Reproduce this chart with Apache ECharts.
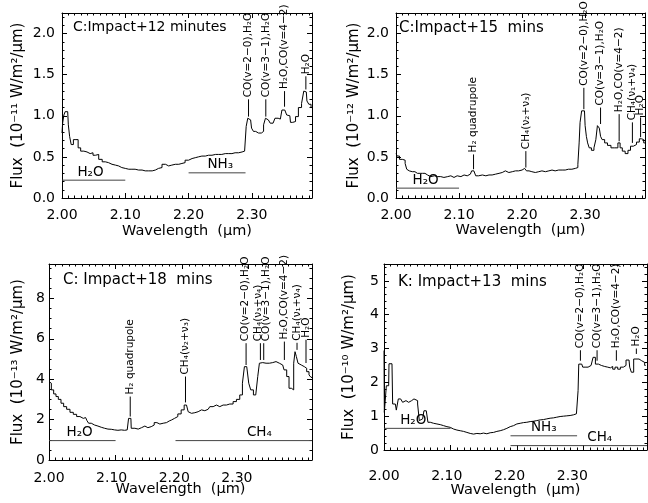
<!DOCTYPE html>
<html><head><meta charset="utf-8">
<script src="https://cdn.jsdelivr.net/npm/echarts@6/dist/echarts.min.js"></script>
<style>html,body{margin:0;padding:0;background:#fff}#c{width:648px;height:503px}</style>
</head><body><div id="c"></div>
<script>
// ---------- DATA ----------
// Panel A: C: Impact+12 minutes  [wavelength (um), flux (1e-11 W/m2/um)]
const specA = [[2.000,0.79],[2.002,0.91],[2.004,1.01],[2.006,1.05],[2.009,1.05],[2.011,0.89],[2.013,0.75],[2.016,0.65],[2.020,0.71],[2.024,0.71],[2.027,0.61],[2.032,0.57],[2.037,0.56],[2.042,0.54],[2.047,0.55],[2.051,0.52],[2.055,0.53],[2.061,0.47],[2.066,0.44],[2.071,0.43],[2.076,0.41],[2.082,0.40],[2.087,0.39],[2.092,0.37],[2.097,0.36],[2.103,0.35],[2.108,0.35],[2.113,0.35],[2.118,0.34],[2.124,0.34],[2.129,0.33],[2.134,0.33],[2.140,0.33],[2.145,0.34],[2.150,0.36],[2.155,0.37],[2.161,0.41],[2.166,0.39],[2.171,0.40],[2.176,0.41],[2.182,0.41],[2.187,0.42],[2.192,0.43],[2.197,0.46],[2.203,0.48],[2.208,0.49],[2.213,0.50],[2.218,0.51],[2.224,0.51],[2.229,0.52],[2.234,0.52],[2.240,0.53],[2.245,0.53],[2.250,0.53],[2.255,0.54],[2.261,0.54],[2.266,0.54],[2.271,0.55],[2.276,0.55],[2.282,0.56],[2.287,0.57],[2.290,0.58],[2.292,0.87],[2.295,0.97],[2.298,0.95],[2.301,0.85],[2.304,0.81],[2.308,0.79],[2.313,0.79],[2.317,0.81],[2.320,0.89],[2.323,0.97],[2.326,0.95],[2.332,0.91],[2.335,0.92],[2.338,0.97],[2.345,0.96],[2.350,1.07],[2.354,1.07],[2.356,1.01],[2.360,1.00],[2.362,0.92],[2.367,0.93],[2.371,0.99],[2.376,1.10],[2.381,1.15],[2.383,1.30],[2.386,1.29],[2.388,1.18],[2.392,1.14],[2.395,1.10]];
const annWaveA = [2.2947, 2.3220, 2.3516, 2.3853];
const annLowA  = [0.99, 0.99, 1.11, 1.32];
const annHighA = [1.20, 1.20, 1.30, 1.48];
const annTextA = ['CO(v=2−0),H₂O', 'CO(v=3−1),H₂O', 'H₂O,CO(v=4−2)', 'H₂O'];
const bandFromA = [2.00, 2.20], bandToA = [2.10, 2.29], bandLevelA = [0.217, 0.306], bandTagAtA = [2.045, 2.25];
const bandTextA = ['H₂O', 'NH₃'];

// Panel B: C: Impact+15 mins  [flux 1e-12]
const specB = [[2.000,0.54],[2.004,0.51],[2.007,0.47],[2.013,0.46],[2.016,0.42],[2.018,0.35],[2.021,0.33],[2.026,0.32],[2.034,0.30],[2.042,0.30],[2.050,0.28],[2.055,0.26],[2.061,0.27],[2.066,0.26],[2.071,0.26],[2.076,0.25],[2.082,0.26],[2.087,0.27],[2.092,0.25],[2.097,0.27],[2.103,0.26],[2.108,0.28],[2.113,0.27],[2.118,0.29],[2.122,0.33],[2.125,0.31],[2.128,0.27],[2.134,0.28],[2.140,0.27],[2.145,0.28],[2.150,0.28],[2.155,0.29],[2.161,0.30],[2.166,0.31],[2.171,0.33],[2.176,0.31],[2.182,0.32],[2.187,0.33],[2.192,0.33],[2.197,0.34],[2.203,0.35],[2.205,0.36],[2.209,0.33],[2.213,0.32],[2.218,0.31],[2.224,0.32],[2.229,0.33],[2.234,0.32],[2.240,0.33],[2.245,0.34],[2.250,0.33],[2.255,0.34],[2.261,0.34],[2.266,0.34],[2.271,0.35],[2.276,0.35],[2.282,0.36],[2.287,0.37],[2.290,0.41],[2.291,0.67],[2.293,0.92],[2.296,1.06],[2.299,1.06],[2.301,0.88],[2.303,0.75],[2.305,0.67],[2.308,0.61],[2.312,0.58],[2.316,0.61],[2.318,0.71],[2.321,0.88],[2.324,0.85],[2.325,0.75],[2.329,0.71],[2.333,0.67],[2.338,0.64],[2.344,0.61],[2.350,0.61],[2.354,0.67],[2.357,0.61],[2.361,0.57],[2.366,0.54],[2.370,0.58],[2.374,0.63],[2.379,0.65],[2.384,0.68],[2.388,0.72],[2.391,0.71],[2.395,0.67]];
const annWaveB = [2.123, 2.206, 2.298, 2.3245, 2.354, 2.375, 2.388];
const annLowB  = [0.35, 0.37, 1.08, 0.90, 0.69, 0.67, 0.74];
const annHighB = [0.53, 0.57, 1.34, 1.10, 1.02, 0.92, 0.98];
const annTextB = ['H₂ quadrupole', 'CH₄(ν₂+ν₃)', 'CO(v=2−0),H₂O', 'CO(v=3−1),H₂O', 'H₂O,CO(v=4−2)', 'CH₄(ν₁+ν₄)', 'H₂O'];
const bandFromB = [2.00], bandToB = [2.10], bandLevelB = [0.12], bandTagAtB = [2.047];
const bandTextB = ['H₂O'];

// Panel C: C: Impact+18 mins  [flux 1e-13]
const specC = [[2.000,3.88],[2.002,3.80],[2.005,3.47],[2.009,3.27],[2.012,3.14],[2.016,3.00],[2.020,2.81],[2.024,2.64],[2.029,2.51],[2.034,2.36],[2.039,2.26],[2.044,2.15],[2.049,2.06],[2.054,1.98],[2.056,2.10],[2.058,1.95],[2.061,1.82],[2.066,1.73],[2.071,1.68],[2.076,1.62],[2.081,1.57],[2.086,1.53],[2.091,1.52],[2.096,1.49],[2.101,1.47],[2.106,1.49],[2.111,1.47],[2.116,1.49],[2.119,1.52],[2.120,2.06],[2.123,2.06],[2.124,1.57],[2.129,1.57],[2.134,1.53],[2.139,1.60],[2.142,1.68],[2.146,1.60],[2.151,1.65],[2.156,1.73],[2.160,1.85],[2.164,1.78],[2.169,1.82],[2.174,1.85],[2.179,1.93],[2.182,1.98],[2.186,2.06],[2.191,2.15],[2.196,2.28],[2.201,2.48],[2.205,2.72],[2.208,2.72],[2.210,2.39],[2.214,2.31],[2.219,2.34],[2.224,2.39],[2.229,2.48],[2.234,2.44],[2.239,2.51],[2.244,2.64],[2.249,2.72],[2.254,2.64],[2.259,2.72],[2.264,2.72],[2.269,2.77],[2.274,2.77],[2.279,2.89],[2.284,3.00],[2.289,3.22],[2.292,3.80],[2.295,4.62],[2.299,4.62],[2.301,3.80],[2.305,3.47],[2.309,3.22],[2.312,3.30],[2.315,4.13],[2.317,4.79],[2.321,4.82],[2.326,4.79],[2.331,4.79],[2.336,4.82],[2.341,4.87],[2.346,4.79],[2.351,4.70],[2.355,4.46],[2.359,4.13],[2.362,3.55],[2.366,3.47],[2.369,4.79],[2.370,5.36],[2.373,5.12],[2.375,4.79],[2.379,4.70],[2.382,4.62],[2.385,4.54],[2.389,4.37],[2.392,4.21],[2.395,4.09]];
const annWaveC = [2.122, 2.205, 2.296, 2.3175, 2.3225, 2.3535, 2.3725, 2.386];
const annTagAtC = [2.122, 2.205, 2.295, 2.3140, 2.3265, 2.3535, 2.3725, 2.3865];
const annLowC  = [2.15, 2.85, 4.70, 4.95, 4.95, 4.95, 5.45, 4.80];
const annHighC = [3.14, 4.13, 5.78, 5.78, 5.78, 5.86, 5.80, 5.95];
const annTextC = ['H₂ quadrupole', 'CH₄(ν₂+ν₃)', 'CO(v=2−0),H₂O', 'CH₄(ν₃+ν₄)', 'CO(v=3−1),H₂O', 'H₂O,CO(v=4−2)', 'CH₄(ν₁+ν₄)', 'H₂O'];
const bandFromC = [2.00, 2.19], bandToC = [2.10, 2.395], bandLevelC = [0.96, 0.96], bandTagAtC = [2.046, 2.316];
const bandTextC = ['H₂O', 'CH₄'];

// Panel D: K: Impact+13 mins  [flux 1e-10]
const specD = [[2.000,2.94],[2.001,1.11],[2.003,1.11],[2.004,1.90],[2.007,1.90],[2.008,2.55],[2.012,2.55],[2.014,1.36],[2.017,1.36],[2.020,1.18],[2.023,1.51],[2.027,1.56],[2.029,1.41],[2.033,1.46],[2.037,1.41],[2.040,1.46],[2.043,1.51],[2.047,1.53],[2.049,1.46],[2.052,1.36],[2.054,0.87],[2.058,0.92],[2.062,1.16],[2.065,1.16],[2.067,0.82],[2.072,0.79],[2.077,0.77],[2.082,0.75],[2.087,0.72],[2.092,0.69],[2.097,0.67],[2.102,0.62],[2.107,0.59],[2.112,0.57],[2.117,0.55],[2.122,0.52],[2.127,0.49],[2.132,0.47],[2.137,0.49],[2.142,0.48],[2.147,0.50],[2.152,0.48],[2.157,0.51],[2.162,0.52],[2.167,0.55],[2.172,0.57],[2.177,0.60],[2.182,0.64],[2.187,0.69],[2.192,0.72],[2.197,0.77],[2.202,0.79],[2.207,0.81],[2.212,0.82],[2.217,0.84],[2.222,0.85],[2.227,0.87],[2.232,0.89],[2.237,0.90],[2.242,0.92],[2.247,0.94],[2.252,0.95],[2.257,0.97],[2.262,0.99],[2.267,1.00],[2.272,1.01],[2.277,1.02],[2.282,1.04],[2.287,1.07],[2.291,1.07],[2.292,1.76],[2.293,2.54],[2.297,2.54],[2.300,2.45],[2.304,2.45],[2.309,2.50],[2.313,2.50],[2.315,2.74],[2.317,2.74],[2.318,2.54],[2.322,2.54],[2.324,2.50],[2.329,2.47],[2.334,2.45],[2.338,2.43],[2.342,2.47],[2.345,2.39],[2.349,2.45],[2.353,2.39],[2.357,2.45],[2.362,2.50],[2.365,2.66],[2.368,2.66],[2.370,2.45],[2.373,2.30],[2.377,2.69],[2.380,2.74],[2.383,2.69],[2.387,2.64],[2.390,2.59],[2.393,2.50]];
const annWaveD = [2.295, 2.320, 2.349, 2.379];
const annLowD  = [2.64, 2.64, 2.64, 2.84];
const annHighD = [2.95, 2.95, 2.95, 3.00];
const annTextD = ['CO(v=2−0),H₂O', 'CO(v=3−1),H₂O', 'H₂O,CO(v=4−2)', 'H₂O'];
const bandFromD = [2.00, 2.19, 2.19], bandToD = [2.10, 2.29, 2.395], bandLevelD = [0.64, 0.42, 0.13], bandTagAtD = [2.044, 2.24, 2.324];
const bandTextD = ['H₂O', 'NH₃', 'CH₄'];

const xTickLabels = ['2.00', '2.10', '2.20', '2.30'];

// ---------- LAYOUT ----------
const FONT = '"DejaVu Sans", sans-serif';
const panels = [
  {box:[62,13,250,185], ymax:2.25, yint:0.5, yminor:5, ydec:1, yname:'Flux  (10⁻¹¹ W/m²/μm)', ynameGap:36, ylabMargin:7,
   xnameGap:26, xlabMargin:10, labelMax:null, title:'C:Impact+12 minutes', tsize:14, tpos:[73,20],
   spec:specA, aw:annWaveA, atx:null, al:annLowA, ah:annHighA, at:annTextA, bf:bandFromA, bt:bandToA, bl:bandLevelA, bg:bandTagAtA, bx:bandTextA},
  {box:[396,13,249,185], ymax:2.25, yint:0.5, yminor:5, ydec:1, yname:'Flux  (10⁻¹² W/m²/μm)', ynameGap:34, ylabMargin:7,
   xnameGap:25, xlabMargin:10, labelMax:null, title:'C:Impact+15  mins', tsize:15, tpos:[399,21],
   spec:specB, aw:annWaveB, atx:null, al:annLowB, ah:annHighB, at:annTextB, bf:bandFromB, bt:bandToB, bl:bandLevelB, bg:bandTagAtB, bx:bandTextB},
  {box:[49,264,263,196], ymax:9.7, yint:2, yminor:4, ydec:0, yname:'Flux  (10⁻¹³ W/m²/μm)', ynameGap:23, ylabMargin:4,
   xnameGap:22, xlabMargin:11, labelMax:2.42, title:'C: Impact+18  mins', tsize:15, tpos:[63,273],
   spec:specC, aw:annWaveC, atx:annTagAtC, al:annLowC, ah:annHighC, at:annTextC, bf:bandFromC, bt:bandToC, bl:bandLevelC, bg:bandTagAtC, bx:bandTextC},
  {box:[384,264,263,186], ymax:5.5, yint:1, yminor:5, ydec:0, yname:'Flux  (10⁻¹⁰ W/m²/μm)', ynameGap:27, ylabMargin:5,
   xnameGap:33, xlabMargin:19, labelMax:2.419, title:'K: Impact+13  mins', tsize:15, tpos:[398,275],
   spec:specD, aw:annWaveD, atx:null, al:annLowD, ah:annHighD, at:annTextD, bf:bandFromD, bt:bandToD, bl:bandLevelD, bg:bandTagAtD, bx:bandTextD}
];

const black = '#000';
function xLabelFmt(v){ const k = Math.round((v - 2.0) * 10); return Math.abs(v - (2.0 + k*0.1)) < 1e-6 && k >= 0 && k < xTickLabels.length ? xTickLabels[k] : ''; }
function tickAxis(gi, pos, min, max, interval, minorSplit) {
  return {gridIndex:gi, type:'value', position:pos, min:min, max:max, interval:interval,
    axisLine:{show:true, onZero:false, lineStyle:{color:black, width:1}},
    axisTick:{show:true, inside:true, length:5, lineStyle:{color:black, width:1}},
    minorTick:{show:true, splitNumber:minorSplit, length:2.5, lineStyle:{color:black, width:1}},
    splitLine:{show:false}, minorSplitLine:{show:false},
    axisLabel:{show:false}, nameMoveOverlap:false};
}
const nameStyle = {color:black, fontSize:15, fontFamily:FONT};
const xNameStyle = {color:black, fontSize:14.5, fontFamily:FONT};
const labStyle = {color:black, fontSize:14, fontFamily:FONT};

const option = {animation:false, backgroundColor:'#fff', title:[], grid:[], xAxis:[], yAxis:[], series:[]};

panels.forEach((p, gi) => {
  option.grid.push({left:p.box[0], top:p.box[1], width:p.box[2], height:p.box[3], containLabel:false, outerBoundsMode:'none'});
  option.title.push({text:p.title, left:p.tpos[0], top:p.tpos[1], padding:0,
    textStyle:{fontSize:p.tsize, fontWeight:'normal', fontFamily:FONT, color:black}});
  const xi = option.xAxis.length;
  const xb = tickAxis(gi, 'bottom', 2.0, 2.395, 0.1, 10);
  option.xAxis.push(xb);
  option.xAxis.push(tickAxis(gi, 'top', 2.0, 2.395, 0.1, 10));
  let labelAxis = xb;
  if (p.labelMax) {
    labelAxis = {gridIndex:gi, type:'value', position:'bottom', min:2.0, max:p.labelMax, interval:0.1,
      axisLine:{show:false, onZero:false}, axisTick:{show:false}, minorTick:{show:false},
      splitLine:{show:false}, nameMoveOverlap:false};
    option.xAxis.push(labelAxis);
  }
  Object.assign(labelAxis, {
    axisLabel:{show:true, margin:p.xlabMargin, formatter:xLabelFmt, showMaxLabel:false, showMinLabel:true, ...labStyle},
    name:'Wavelength  (μm)', nameLocation:'middle', nameGap:p.xnameGap, nameTextStyle:xNameStyle});
  const yi = option.yAxis.length;
  const yl = tickAxis(gi, 'left', 0, p.ymax, p.yint, p.yminor);
  yl.axisLabel = {show:true, margin:p.ylabMargin, showMaxLabel:false, ...labStyle,
    formatter:(v) => Math.abs(v/p.yint - Math.round(v/p.yint)) < 1e-6 ? v.toFixed(p.ydec) : ''};
  Object.assign(yl, {name:p.yname, nameLocation:'middle', nameGap:p.ynameGap, nameRotate:90, nameTextStyle:nameStyle});
  option.yAxis.push(yl);
  option.yAxis.push(tickAxis(gi, 'right', 0, p.ymax, p.yint, p.yminor));

  option.series.push({type:'line', xAxisIndex:xi, yAxisIndex:yi, data:p.spec, step:'middle',
    symbol:'none', showSymbol:false, silent:true, lineStyle:{color:black, width:1}, z:3});

  const texts = p.at;
  const tagAt = p.atx || p.aw;
  option.series.push({type:'custom', xAxisIndex:xi, yAxisIndex:yi, silent:true, z:4,
    data:p.aw.map((w,k) => [w, p.al[k], p.ah[k], tagAt[k]]),
    encode:{x:0, y:[1,2]},
    renderItem:(params, api) => {
      const a = api.coord([api.value(0), api.value(1)]);
      const b = api.coord([api.value(0), api.value(2)]);
      const t = api.coord([api.value(3), api.value(2)]);
      return {type:'group', children:[
        {type:'line', shape:{x1:a[0], y1:a[1], x2:b[0], y2:b[1]}, style:{stroke:black, lineWidth:1}},
        {type:'text', x:t[0], y:b[1]-2, rotation:Math.PI/2,
         style:{text:texts[params.dataIndex], fill:black, font:'10.5px ' + FONT, align:'left', verticalAlign:'middle'}}
      ]};
    }});

  const btexts = p.bx;
  option.series.push({type:'custom', xAxisIndex:xi, yAxisIndex:yi, silent:true, z:4,
    data:p.bf.map((f,k) => [f, p.bl[k], p.bt[k], p.bg[k]]),
    encode:{x:[0,2], y:1},
    renderItem:(params, api) => {
      const lv = api.value(1);
      const a = api.coord([api.value(0), lv]);
      const b = api.coord([api.value(2), lv]);
      const t = api.coord([api.value(3), lv]);
      return {type:'group', children:[
        {type:'line', shape:{x1:a[0], y1:a[1], x2:b[0], y2:b[1]}, style:{stroke:'#444', lineWidth:1}},
        {type:'text', x:t[0], y:t[1]-1,
         style:{text:btexts[params.dataIndex], fill:black, font:'13.5px ' + FONT, align:'center', verticalAlign:'bottom'}}
      ]};
    }});
});

const chart = echarts.init(document.getElementById('c'), null, {renderer:'canvas'});
chart.setOption(option);
</script>
</body></html>
